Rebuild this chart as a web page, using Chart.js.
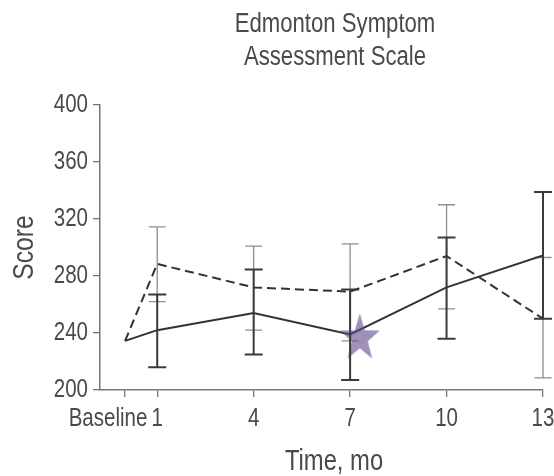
<!DOCTYPE html>
<html><head><meta charset="utf-8">
<script src="https://cdn.jsdelivr.net/npm/chart.js@4"></script>
<style>html,body{margin:0;padding:0;background:#fff;overflow:hidden}</style>
</head><body>
<canvas id="c" width="570" height="476"></canvas>
<script>
const titleLines = ['Edmonton Symptom', 'Assessment Scale'];
const xAxisTitle = 'Time, mo';
const yAxisTitle = 'Score';
const months = [0, 1, 4, 7, 10, 13];
const xTickLabels = ['Baseline      ', '1', '4', '7', '10', '13'];
const yTickValues = [200, 240, 280, 320, 360, 400];
const solidScore = [234.5, 242, 254, 239, 272, 294.5];
const solidLow   = [null, 216, 225, 207, 236, 250];
const solidHigh  = [null, 267, 284.5, 270.5, 307, 339];
const dashedScore = [234.5, 288.5, 272, 269, 294, 250];
const dashedLow   = [null, 262, 242, 234.5, 257, 208.5];
const dashedHigh  = [null, 314.5, 301, 302.5, 330, 293];
const starPoint = [{x: 7.3, y: 237}];

const FONT = "'Liberation Sans', Arial, sans-serif";
const TEXT = '#4a4a4a';
const AXIS = '#777';

// condensed lettering: draw every text run slightly narrowed around its anchor
(function () {
  const S = 0.82;
  const proto = CanvasRenderingContext2D.prototype;
  const orig = proto.fillText;
  proto.fillText = function (t, x, y) {
    this.save();
    this.translate(x, y);
    this.scale(S, 1);
    orig.call(this, t, 0, 0);
    this.restore();
  };
})();

function makeStar() {
  const c = document.createElement('canvas');
  c.width = 46; c.height = 48;
  const g = c.getContext('2d');
  const cx = 23, cy = 25, rx = 21, ry = 25, k = 0.4;
  g.beginPath();
  for (let i = 0; i < 10; i++) {
    const a = -Math.PI / 2 + i * Math.PI / 5;
    const r = i % 2 ? k : 1;
    const px = cx + Math.cos(a) * rx * r, py = cy + Math.sin(a) * ry * r;
    i ? g.lineTo(px, py) : g.moveTo(px, py);
  }
  g.closePath();
  g.fillStyle = 'rgba(95,70,140,0.6)';
  g.fill();
  return c;
}

function drawBars(chart, lows, highs, color, width, capHalf) {
  const {ctx, scales: {x, y}} = chart;
  ctx.save();
  ctx.strokeStyle = color; ctx.lineWidth = width; ctx.beginPath();
  months.forEach((m, i) => {
    if (lows[i] == null) return;
    const px = x.getPixelForValue(m);
    const y1 = y.getPixelForValue(lows[i]);
    const y2 = y.getPixelForValue(highs[i]);
    ctx.moveTo(px, y1); ctx.lineTo(px, y2);
    ctx.moveTo(px - capHalf, y1); ctx.lineTo(px + capHalf, y1);
    ctx.moveTo(px - capHalf, y2); ctx.lineTo(px + capHalf, y2);
  });
  ctx.stroke(); ctx.restore();
}

const errorBars = {
  id: 'errorBars',
  beforeDatasetsDraw(chart) { drawBars(chart, dashedLow, dashedHigh, '#8e8e8e', 1.3, 8.5); },
  afterDatasetsDraw(chart) { drawBars(chart, solidLow, solidHigh, '#3a3a3a', 2, 9); }
};

const texts = {
  id: 'texts',
  afterDraw(chart) {
    const ctx = chart.ctx;
    ctx.save();
    ctx.fillStyle = TEXT;
    ctx.textAlign = 'center';
    ctx.textBaseline = 'alphabetic';
    ctx.font = '27px ' + FONT;
    ctx.fillText(titleLines[0], 335, 32);
    ctx.fillText(titleLines[1], 335, 65);
    ctx.font = '29px ' + FONT;
    ctx.fillText(xAxisTitle, 334, 470);
    ctx.restore();
  }
};

new Chart(document.getElementById('c'), {
  type: 'line',
  data: {
    datasets: [
      {
        data: months.map((m, i) => ({x: m, y: solidScore[i]})),
        borderColor: '#333', borderWidth: 2, pointRadius: 0, tension: 0, fill: false, order: 2
      },
      {
        data: months.map((m, i) => ({x: m, y: dashedScore[i]})),
        borderColor: '#333', borderWidth: 2, borderDash: [9, 5], pointRadius: 0, tension: 0, fill: false, order: 3
      },
      {
        type: 'scatter',
        data: starPoint,
        pointStyle: makeStar(), pointRadius: 23, order: 1
      }
    ]
  },
  options: {
    responsive: false,
    animation: false,
    devicePixelRatio: 1,
    layout: {padding: {top: 105, right: 27, bottom: 0, left: 0}},
    plugins: {legend: {display: false}, title: {display: false}, tooltip: {enabled: false}},
    scales: {
      x: {
        type: 'linear', min: -0.78, max: 13,
        afterBuildTicks(s) { s.ticks = months.map(v => ({value: v})); },
        afterFit(s) { s.height = 86; },
        ticks: {
          autoSkip: false, maxRotation: 0, padding: 7, color: TEXT,
          font: {family: FONT, size: 25},
          callback(v) { const i = months.indexOf(v); return i >= 0 ? xTickLabels[i] : ''; }
        },
        grid: {drawOnChartArea: false, drawTicks: true, tickLength: 7, color: AXIS, lineWidth: 1.3},
        border: {display: true, color: AXIS, width: 1.5}
      },
      y: {
        min: 200, max: 400,
        afterBuildTicks(s) { s.ticks = yTickValues.map(v => ({value: v})); },
        afterFit(s) { s.width = 100; },
        ticks: {padding: 5, color: TEXT, font: {family: FONT, size: 25}},
        title: {display: true, text: yAxisTitle, color: TEXT, font: {family: FONT, size: 30}, padding: {top: 7, bottom: 0}},
        grid: {drawOnChartArea: false, drawTicks: true, tickLength: 7, color: AXIS, lineWidth: 1.3},
        border: {display: true, color: AXIS, width: 1.5}
      }
    }
  },
  plugins: [errorBars, texts]
});
</script>
</body></html>
